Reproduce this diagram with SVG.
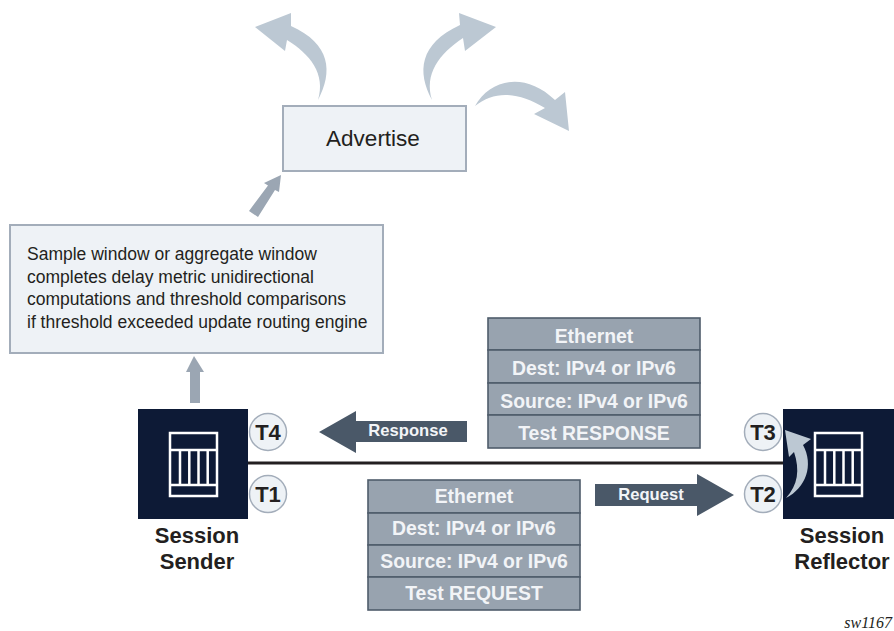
<svg xmlns="http://www.w3.org/2000/svg" width="894" height="631" viewBox="0 0 894 631">
<style>
text{font-family:"Liberation Sans",Arial,sans-serif}
.box{fill:#eef2f6;stroke:#a3adba;stroke-width:2}
.curve{fill:#bcc8d3}
.up{fill:#9ba6b3}
.flow{fill:#4a5868}
.flowt{font-size:16.600px;font-weight:700;fill:#f2f4f7;text-anchor:middle}
.cell{fill:#98a3af;stroke:#4f5c6b;stroke-width:1.6}
.cellt{font-size:19.400px;font-weight:700;fill:#f2f4f7;text-anchor:middle}
.sq{fill:#0d1a36}
.ic{fill:none;stroke:#fff;stroke-width:2.500}
.t{fill:#eef2f6;stroke:#a3adba;stroke-width:1.500}
.tt{font-size:22px;font-weight:700;fill:#231f20;text-anchor:middle}
.name{font-size:22px;font-weight:700;fill:#231f20;text-anchor:middle}
.body{font-size:17.500px;fill:#231f20}
</style>
<rect width="894" height="631" fill="#fff"/>
<g id="connectors">
<path class="curve" d="M318 100C333 72 331 44 291 26L291 13L255 27L285 51L287 40C310 54 326 74 318 100Z"/>
<path class="curve" d="M432 100C417 72 419 44 460 25L459 13L496 27L465 51L463 38C439 54 424 74 432 100Z"/>
<path class="curve" d="M475 106C490 79 525 71 555 100L565 92L569 131L534 114L545 108C518 92 495 90 475 106Z"/>
<path class="up" d="M249 211L268 185.500L264 183L281 175L279 192L275 190L258 217Z"/>
<path class="up" d="M190 403V372H186L194 356L204 372H200V403Z"/>
<line x1="248" y1="463" x2="783" y2="463" stroke="#231f20" stroke-width="3"/>
<g id="response"><path class="flow" d="M467 421H356V411L319 432L356 453V442H467Z"/><text class="flowt" x="408" y="436">Response</text></g>
<g id="request"><path class="flow" d="M595 484H697V474L734 495L697 516V506H595Z"/><text class="flowt" x="651" y="500">Request</text></g>
</g>
<g id="advertise"><rect class="box" x="283" y="106" width="183" height="65"/><text x="373" y="146" font-size="22.500" fill="#231f20" text-anchor="middle">Advertise</text></g>
<g id="sample"><rect class="box" x="10" y="225" width="373" height="128"/>
<text class="body" x="27" y="260">Sample window or aggregate window</text>
<text class="body" x="27" y="283">completes delay metric unidirectional</text>
<text class="body" x="27" y="305">computations and threshold comparisons</text>
<text class="body" x="27" y="328">if threshold exceeded update routing engine</text></g>
<g id="response-packet">
<rect class="cell" x="488" y="318" width="212" height="32"/><rect class="cell" x="488" y="350" width="212" height="33"/><rect class="cell" x="488" y="383" width="212" height="32"/><rect class="cell" x="488" y="415" width="212" height="33"/>
<text class="cellt" x="594" y="343">Ethernet</text><text class="cellt" x="594" y="375">Dest: IPv4 or IPv6</text><text class="cellt" x="594" y="408">Source: IPv4 or IPv6</text><text class="cellt" x="594" y="440">Test RESPONSE</text></g>
<g id="request-packet">
<rect class="cell" x="368" y="480" width="212" height="33"/><rect class="cell" x="368" y="513" width="212" height="32"/><rect class="cell" x="368" y="545" width="212" height="32"/><rect class="cell" x="368" y="577" width="212" height="33"/>
<text class="cellt" x="474" y="503">Ethernet</text><text class="cellt" x="474" y="535">Dest: IPv4 or IPv6</text><text class="cellt" x="474" y="568">Source: IPv4 or IPv6</text><text class="cellt" x="474" y="600">Test REQUEST</text></g>
<g id="sender">
<rect class="sq" x="138" y="409" width="110" height="110"/>
<path class="ic" d="M170 433H217V496H170ZM170 450H217M170 485H217M180 450V485M189.300 450V485M198.500 450V485M207.700 450V485"/>
<text class="name" x="197" y="543">Session</text><text class="name" x="197" y="569">Sender</text></g>
<g id="reflector">
<rect class="sq" x="783" y="409" width="111" height="110"/>
<path class="ic" d="M815 433H862V496H815ZM815 450H862M815 485H862M825 450V485M834.300 450V485M843.500 450V485M852.700 450V485"/>
<path class="curve" d="M786 498C806 488 814 465 803 445L811 439L785 430L789 457L794 452C800 470 798 485 786 498Z"/>
<text class="name" x="842" y="543">Session</text><text class="name" x="842" y="569">Reflector</text></g>
<g id="t4"><circle class="t" cx="268" cy="432" r="18.500"/><text class="tt" x="268" y="440">T4</text></g>
<g id="t1"><circle class="t" cx="268" cy="494" r="18.500"/><text class="tt" x="268" y="502">T1</text></g>
<g id="t3"><circle class="t" cx="763" cy="432" r="18.500"/><text class="tt" x="763" y="440">T3</text></g>
<g id="t2"><circle class="t" cx="763" cy="494" r="18.500"/><text class="tt" x="763" y="502">T2</text></g>
<text x="892" y="628" font-size="16" font-style="italic" text-anchor="end" fill="#231f20" style="font-family:'Liberation Serif',serif">sw1167</text>
</svg>
